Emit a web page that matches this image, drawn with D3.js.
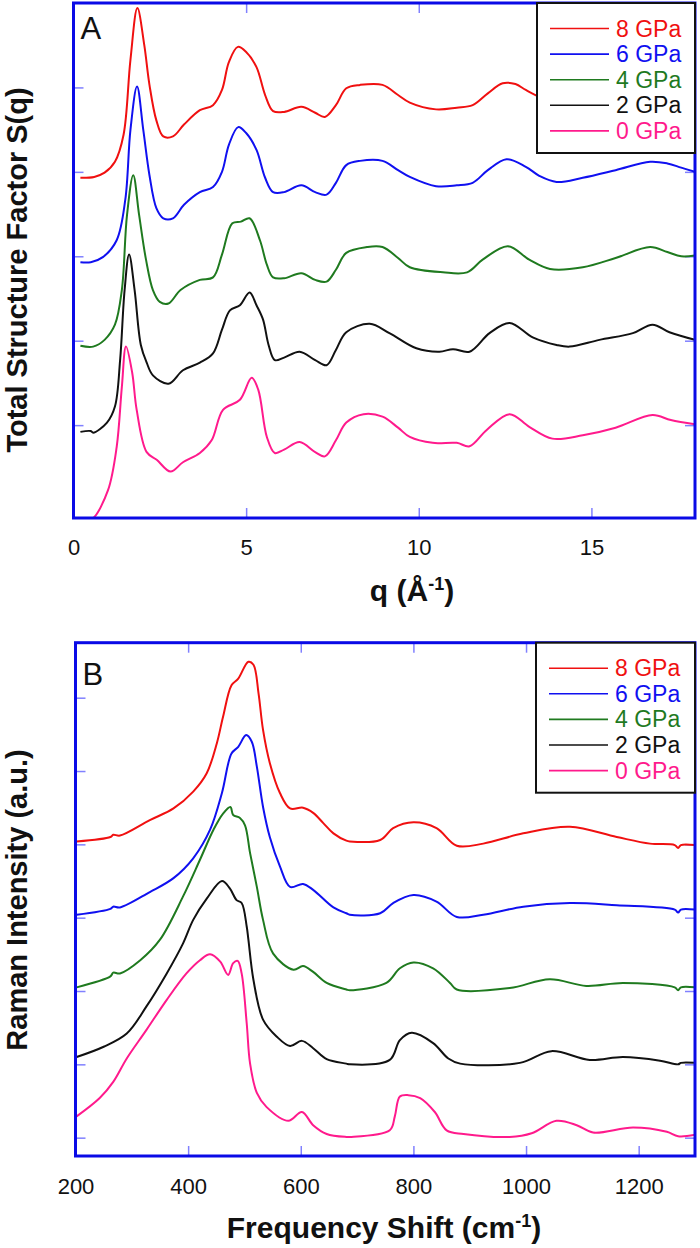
<!DOCTYPE html>
<html>
<head>
<meta charset="utf-8">
<script src="https://cdn.jsdelivr.net/npm/d3@7"></script>
<style>
body{margin:0;background:white}
svg{display:block;font-family:"Liberation Sans",Arial,sans-serif}
</style>
</head>
<body>
<div id="chart"></div>
<script>

// -----------------------------
// DATA (panel A: S(q), offset curves)
// -----------------------------

const pressures = ["8 GPa","6 GPa","4 GPa","2 GPa","0 GPa"]
const colors = ["#f01010","#1010f0","#1f7a1f","#111111","#ff1a8c"]

const qTicks = [0,5,10,15]
const sqTicks = [1,2,3,4,5]

const sq8 = [[0.2,3.93],[0.6,3.94],[0.9,3.99],[1.2,4.12],[1.45,4.44],[1.65,5.33],[1.85,5.94],[2.05,5.5],[2.2,5.03],[2.4,4.61],[2.6,4.42],[2.88,4.42],[3.2,4.56],[3.66,4.73],[4.04,4.79],[4.3,4.97],[4.5,5.3],[4.76,5.48],[5.0,5.42],[5.3,5.24],[5.55,4.91],[5.78,4.72],[6.1,4.71],[6.6,4.77],[7.0,4.7],[7.28,4.65],[7.6,4.79],[7.9,4.99],[8.3,5.03],[8.95,5.03],[9.4,4.91],[9.74,4.82],[10.5,4.74],[11.1,4.76],[11.56,4.79],[12.0,4.93],[12.43,5.05],[12.8,5.04],[13.1,4.97],[13.5,4.89],[14.0,4.85],[14.8,4.87],[15.7,4.97],[16.7,5.06],[17.6,4.99],[18,4.95]]

const sq6 = [[0.2,2.93],[0.5,2.93],[0.85,2.99],[1.25,3.19],[1.5,3.67],[1.65,4.5],[1.84,5.01],[2.02,4.5],[2.2,3.96],[2.4,3.57],[2.6,3.45],[2.88,3.45],[3.2,3.61],[3.66,3.76],[4.04,3.82],[4.3,4.0],[4.5,4.32],[4.77,4.53],[5.0,4.46],[5.3,4.26],[5.55,3.93],[5.78,3.76],[6.1,3.76],[6.6,3.84],[7.0,3.76],[7.33,3.73],[7.6,3.87],[7.9,4.08],[8.3,4.13],[8.95,4.13],[9.4,4.02],[9.74,3.94],[10.5,3.83],[11.1,3.84],[11.56,3.87],[12.0,4.02],[12.54,4.15],[13.1,4.06],[13.5,3.95],[13.99,3.88],[14.75,3.93],[15.7,4.02],[16.7,4.12],[17.2,4.1],[17.6,4.05],[18,4.0]]

const sq4 = [[0.2,1.94],[0.57,1.93],[0.9,2.01],[1.2,2.19],[1.4,2.6],[1.55,3.49],[1.73,3.96],[1.9,3.49],[2.1,2.96],[2.3,2.6],[2.5,2.46],[2.75,2.44],[3.1,2.6],[3.66,2.72],[4.04,2.75],[4.3,3.02],[4.6,3.39],[4.85,3.41],[5.1,3.45],[5.4,3.19],[5.6,2.9],[5.78,2.75],[6.1,2.74],[6.6,2.8],[7.0,2.72],[7.33,2.7],[7.6,2.84],[7.9,3.04],[8.5,3.11],[8.95,3.11],[9.4,2.98],[9.74,2.87],[10.7,2.81],[11.4,2.81],[11.85,2.96],[12.58,3.12],[13.2,2.96],[13.8,2.85],[14.75,2.87],[15.7,2.98],[16.7,3.11],[17.2,3.05],[17.6,3.0],[18,3.01]]

const sq2 = [[0.2,0.92],[0.5,0.93],[0.57,0.91],[0.97,1.03],[1.2,1.22],[1.35,1.77],[1.48,2.6],[1.61,3.02],[1.77,2.6],[1.95,1.95],[2.12,1.74],[2.3,1.59],[2.75,1.49],[3.17,1.65],[3.66,1.74],[4.04,1.85],[4.3,2.13],[4.53,2.36],[4.82,2.42],[5.1,2.57],[5.3,2.42],[5.49,2.25],[5.65,1.95],[5.83,1.77],[6.1,1.8],[6.55,1.87],[7.0,1.77],[7.33,1.71],[7.6,1.89],[7.9,2.1],[8.58,2.2],[9.15,2.09],[9.93,1.91],[10.6,1.87],[10.99,1.9],[11.47,1.87],[12.05,2.09],[12.63,2.21],[13.3,2.04],[13.99,1.95],[14.37,1.93],[15.23,2.01],[16.2,2.09],[16.77,2.19],[17.26,2.1],[18,2.01]]

const sq0 = [[0.2,-0.1],[0.45,-0.1],[0.57,-0.1],[1.0,0.23],[1.25,0.74],[1.4,1.45],[1.52,1.93],[1.7,1.62],[1.83,1.18],[2.12,0.68],[2.41,0.59],[2.81,0.45],[3.17,0.56],[3.66,0.67],[4.0,0.82],[4.33,1.18],[4.82,1.3],[5.16,1.56],[5.35,1.42],[5.6,0.86],[5.83,0.67],[6.1,0.71],[6.55,0.8],[7.0,0.68],[7.28,0.63],[7.6,0.82],[7.9,1.03],[8.4,1.13],[8.95,1.1],[9.4,0.97],[9.74,0.86],[10.4,0.79],[11.1,0.79],[11.47,0.75],[11.96,0.94],[12.63,1.13],[13.2,0.98],[13.87,0.84],[14.75,0.88],[15.7,0.97],[16.77,1.12],[17.3,1.06],[18,1.01]]


// -----------------------------
// DATA (panel B: Raman spectra, offset curves)
// -----------------------------

const freqTicks = [200,400,600,800,1000,1200]
const ramanTicks = [0,1,2,3,4,5,6]

const r8 = [[202,4.04],[262,4.1],[267,4.13],[279,4.12],[332,4.33],[374,4.49],[409,4.72],[433,4.97],[451,5.38],[462,5.74],[477,6.17],[489,6.26],[507,6.49],[516,6.45],[525,6.06],[533,5.56],[545,5.11],[563,4.7],[581,4.49],[604,4.5],[622,4.43],[640,4.29],[658,4.15],[681,4.05],[687,4.04],[741,4.06],[764,4.22],[800,4.3],[841,4.22],[877,3.98],[924,4.01],[995,4.15],[1078,4.24],[1161,4.1],[1220,4.01],[1264,3.99],[1270,3.95],[1275,3.99],[1300,3.99]]

const r6 = [[202,3.04],[262,3.12],[267,3.15],[279,3.14],[332,3.35],[374,3.54],[409,3.81],[439,4.2],[460,4.7],[477,5.24],[489,5.33],[503,5.49],[513,5.4],[522,5.06],[533,4.51],[545,4.1],[563,3.7],[581,3.42],[604,3.46],[622,3.38],[658,3.14],[681,3.06],[687,3.04],[741,3.06],[764,3.2],[800,3.31],[841,3.22],[877,3.01],[924,3.04],[995,3.15],[1078,3.2],[1161,3.17],[1264,3.11],[1270,3.07],[1275,3.11],[1300,3.11]]

const r4 = [[202,2.05],[262,2.2],[267,2.25],[279,2.24],[315,2.42],[350,2.7],[391,3.29],[421,3.79],[445,4.2],[462,4.42],[475,4.51],[480,4.4],[492,4.36],[501,4.26],[510,3.88],[522,3.42],[533,2.97],[551,2.51],[587,2.29],[604,2.34],[622,2.26],[646,2.11],[681,2.02],[687,2.01],[752,2.11],[776,2.31],[800,2.39],[835,2.31],[865,2.11],[877,2.02],[971,2.04],[1042,2.16],[1107,2.07],[1172,2.11],[1264,2.05],[1270,2.01],[1275,2.05],[1300,2.05]]

const r2 = [[202,1.1],[250,1.24],[291,1.42],[326,1.79],[362,2.24],[391,2.65],[409,2.97],[433,3.26],[460,3.5],[474,3.4],[486,3.24],[495,3.2],[504,2.88],[507,2.7],[516,2.15],[533,1.61],[557,1.38],[581,1.25],[602,1.32],[622,1.22],[646,1.07],[681,1.01],[687,1.0],[758,1.06],[776,1.33],[797,1.43],[835,1.29],[862,1.08],[883,1.01],[989,1.02],[1045,1.18],[1113,1.06],[1172,1.1],[1238,1.05],[1270,1.0],[1275,1.02],[1300,1.02]]

const r0 = [[202,0.29],[243,0.54],[267,0.76],[291,1.08],[326,1.47],[362,1.88],[397,2.24],[421,2.42],[439,2.5],[457,2.4],[471,2.22],[480,2.38],[488,2.41],[495,2.24],[504,1.56],[510,1.01],[522,0.61],[539,0.42],[578,0.23],[602,0.35],[622,0.17],[646,0.05],[681,0.01],[687,0.01],[758,0.1],[767,0.29],[776,0.56],[791,0.58],[812,0.54],[838,0.35],[859,0.1],[889,0.05],[971,0.01],[1010,0.06],[1054,0.23],[1090,0.17],[1119,0.07],[1190,0.14],[1250,0.08],[1270,0.02],[1300,0.04]]


// -----------------------------
// SVG
// -----------------------------

const svg = d3.select("#chart")
.append("svg")
.attr("width",700)
.attr("height",1248)

drawPanel({
id:"A",
letter:"A",
box:{left:73.5,right:695,top:3,bottom:518},
xDomain:[0,18],
yDomain:[-0.1,6],
xTicks:qTicks,
yTicks:sqTicks,
series:[sq8,sq6,sq4,sq2,sq0],
labelPad:21,
yTitle:"Total Structure Factor S(q)",
yTitleY:270,
xTitle:["q (Å","-1",")"],
xTitleX:412,
xTitleY:601,
legend:{x:537,y:3,w:158,h:150}
})

drawPanel({
id:"B",
letter:"B",
box:{left:75.5,right:695,top:642.7,bottom:1156},
xDomain:[200,1300],
yDomain:[-0.25,6.75],
xTicks:freqTicks,
yTicks:ramanTicks,
series:[r8,r6,r4,r2,r0],
labelPad:22,
yTitle:"Raman Intensity (a.u.)",
yTitleY:900,
xTitle:["Frequency Shift (cm","-1",")"],
xTitleX:384,
xTitleY:1238,
legend:{x:536,y:642.7,w:159,h:150}
})


// -----------------------------
// PANEL
// -----------------------------

function drawPanel(cfg){

const b = cfg.box

const x = d3.scaleLinear()
.domain(cfg.xDomain)
.range([b.left,b.right])

const y = d3.scaleLinear()
.domain(cfg.yDomain)
.range([b.bottom,b.top])

const g = svg.append("g")

g.append("clipPath")
.attr("id","clip"+cfg.id)
.append("rect")
.attr("x",b.left)
.attr("y",b.top)
.attr("width",b.right-b.left)
.attr("height",b.bottom-b.top)


// TICKS (inward, all four sides)

const tickLen = -10

const bottomAxis = g.append("g")
.attr("transform",`translate(0,${b.bottom})`)
.call(d3.axisBottom(x).tickValues(cfg.xTicks).tickSizeInner(tickLen).tickSizeOuter(0).tickPadding(cfg.labelPad).tickFormat(d3.format("d")))

g.append("g")
.attr("transform",`translate(0,${b.top})`)
.call(d3.axisTop(x).tickValues(cfg.xTicks).tickSizeInner(tickLen).tickSizeOuter(0).tickFormat(""))

g.append("g")
.attr("transform",`translate(${b.left},0)`)
.call(d3.axisLeft(y).tickValues(cfg.yTicks).tickSizeInner(tickLen).tickSizeOuter(0).tickFormat(""))

g.append("g")
.attr("transform",`translate(${b.right},0)`)
.call(d3.axisRight(y).tickValues(cfg.yTicks).tickSizeInner(tickLen).tickSizeOuter(0).tickFormat(""))

g.selectAll(".domain").remove()

g.selectAll(".tick line")
.attr("stroke","#8080ff")
.attr("stroke-width",1.5)

bottomAxis.selectAll("text")
.attr("font-size",22)
.attr("font-family","Liberation Sans, Arial, sans-serif")
.attr("fill","#111")


// CURVES

const line = d3.line()
.x(d=>x(d[0]))
.y(d=>y(d[1]))
.curve(d3.curveCatmullRom.alpha(0.5))

g.append("g")
.attr("clip-path",`url(#clip${cfg.id})`)
.selectAll("path")
.data(cfg.series)
.enter()
.append("path")
.attr("fill","none")
.attr("stroke",(d,i)=>colors[i])
.attr("stroke-width",2)
.attr("stroke-linejoin","round")
.attr("d",line)


// FRAME

g.append("rect")
.attr("x",b.left)
.attr("y",b.top)
.attr("width",b.right-b.left)
.attr("height",b.bottom-b.top)
.attr("fill","none")
.attr("stroke","#0a0ae6")
.attr("stroke-width",3)


// LEGEND

const lg = cfg.legend

g.append("rect")
.attr("x",lg.x)
.attr("y",lg.y)
.attr("width",lg.w)
.attr("height",lg.h)
.attr("fill","white")
.attr("stroke","#111")
.attr("stroke-width",2)

const rows = g.selectAll(".row")
.data(pressures)
.enter()
.append("g")
.attr("transform",(d,i)=>`translate(${lg.x},${lg.y+25.5+i*25.6})`)

rows.append("line")
.attr("x1",13)
.attr("x2",72)
.attr("stroke",(d,i)=>colors[i])
.attr("stroke-width",1.6)

rows.append("text")
.attr("x",79)
.attr("y",8)
.attr("font-size",23)
.attr("fill",(d,i)=>colors[i])
.text(d=>d)


// PANEL LETTER

g.append("text")
.attr("x",b.left+7)
.attr("y",b.top+(cfg.id=="A"?36:42))
.attr("font-size",31)
.attr("fill","#111")
.text(cfg.letter)


// AXIS TITLES

g.append("text")
.attr("transform",`translate(27,${cfg.yTitleY}) rotate(-90)`)
.attr("text-anchor","middle")
.attr("font-size",29)
.attr("font-weight","bold")
.attr("fill","#111")
.text(cfg.yTitle)

const xt = g.append("text")
.attr("x",cfg.xTitleX)
.attr("y",cfg.xTitleY)
.attr("text-anchor","middle")
.attr("font-size",30)
.attr("font-weight","bold")
.attr("fill","#111")

xt.append("tspan").text(cfg.xTitle[0])
xt.append("tspan").attr("dy",-11).attr("font-size",18).text(cfg.xTitle[1])
xt.append("tspan").attr("dy",11).text(cfg.xTitle[2])

}

</script>
</body>
</html>
